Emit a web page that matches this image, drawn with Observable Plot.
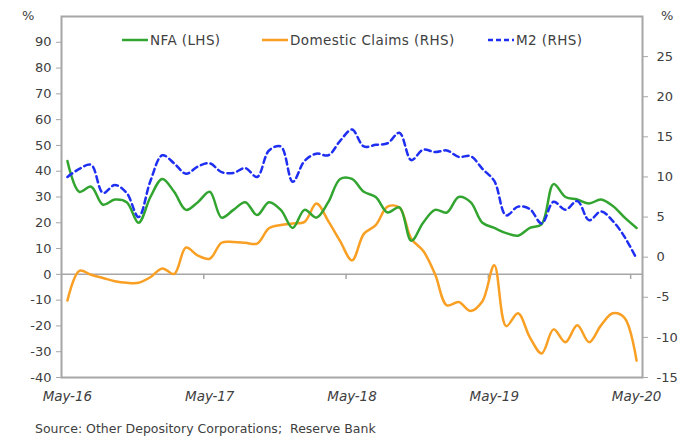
<!DOCTYPE html>
<html>
<head>
<meta charset="utf-8">
<script src="https://cdn.jsdelivr.net/npm/d3@7"></script>
<script src="https://cdn.jsdelivr.net/npm/@observablehq/plot@0.6"></script>
<style>
  html, body { margin: 0; padding: 0; background: #fff; }
  #wrap { position: relative; width: 698px; height: 439px; font-family: "DejaVu Sans", sans-serif; color: #404040; }
  .ov { position: absolute; font-size: 13px; white-space: nowrap; }
  .leg { position: absolute; top: 32px; height: 16px; display: flex; align-items: center; font-size: 13.5px; letter-spacing: 0.4px; white-space: nowrap; }
  .leg svg { margin-right: 2px; }
  #caption { position: absolute; left: 35px; top: 421px; font-size: 12.5px; white-space: nowrap; }
</style>
</head>
<body>
<div id="wrap"></div>
<script>
// Months (index 0 = May-16 ... 48 = May-20)
const xTickLabels = ["May-16", "May-17", "May-18", "May-19", "May-20"];
const xLabelIndex = [0, 12, 24, 36, 48];
const xTickIndex = [11.5, 23.5, 35.5, 47.5];
const leftTicks = [-40, -30, -20, -10, 0, 10, 20, 30, 40, 50, 60, 70, 80, 90];
const rightTicks = [-15, -10, -5, 0, 5, 10, 15, 20, 25];

// NFA (LHS), %
const nfa = [44, 32, 34, 27, 29, 28, 20, 30, 37, 32, 25, 28, 32, 22, 25, 28, 23, 28, 25, 18,
  25, 22, 28, 37, 37, 32, 30, 24, 26, 13, 20, 25, 24, 30, 28, 20, 18, 16, 15, 18,
  19.5, 35, 30, 29, 27.5, 29, 26.5, 22, 18];
// Domestic Claims (RHS), %
const domClaims = [-5.4, -1.7, -2.2, -2.6, -3.0, -3.2, -3.2, -2.5, -1.4, -2.1, 1.2, 0.2, -0.2, 1.8, 1.9, 1.8, 1.7, 3.6, 4.0, 4.2,
  4.4, 6.7, 4.5, 2.0, -0.4, 2.9, 4.0, 6.3, 6.2, 2.3, 0.8, -2.1, -6.0, -5.6, -6.7, -5.5, -1.0, -8.6, -7.0, -10.0,
  -12.0, -9.0, -10.6, -8.5, -10.6, -8.5, -7.0, -7.6, -12.9];
// M2 (RHS), %
const m2 = [10, 11, 11.5, 8, 9, 8, 5, 9.5, 12.7, 11.7, 10.4, 11.3, 11.7, 10.6, 10.5, 11.1, 10, 13.3, 13.8, 9.4,
  12, 12.9, 12.7, 14.5, 15.9, 13.8, 14, 14.2, 15.5, 12.1, 13.4, 13.1, 13.3, 12.5, 12.6, 11, 9.5, 5.2, 6.3, 6,
  4.2, 6.9, 5.9, 7, 4.6, 5.7, 4.5, 2.5, -0.2];

const leftDomain = [-40, 100];
const rightDomain = [-15, 30];
const toLeft = r => leftDomain[0] + (r - rightDomain[0]) * (leftDomain[1] - leftDomain[0]) / (rightDomain[1] - rightDomain[0]);
const fromLeft = l => rightDomain[0] + (l - leftDomain[0]) * (rightDomain[1] - rightDomain[0]) / (leftDomain[1] - leftDomain[0]);

const colors = { nfa: "#32a530", dom: "#f9a024", m2: "#1f2ff2" };
const axisColor = "#a6a6a6";

const nfaData = nfa.map((v, i) => ({ i, v }));
const domData = domClaims.map((v, i) => ({ i, v: toLeft(v) }));
const m2Data = m2.map((v, i) => ({ i, v: toLeft(v) }));

const chart = Plot.plot({
  width: 698,
  height: 412,
  marginTop: 16,
  marginBottom: 35,
  marginLeft: 61,
  marginRight: 56,
  style: { fontFamily: "DejaVu Sans, sans-serif", fontSize: "13px", color: "#404040", background: "#fff" },
  x: { type: "linear", domain: [-0.5, 48.5] },
  y: { domain: leftDomain },
  marks: [
    Plot.frame({ stroke: axisColor, strokeWidth: 2 }),
    Plot.ruleY([0], { stroke: axisColor, strokeWidth: 1.5 }),
    Plot.ruleX(xTickIndex, { x: d => d, y1: 0, y2: -2, stroke: axisColor, strokeWidth: 1.5 }),
    Plot.axisY(leftTicks, { anchor: "left", tickSize: 5, tickPadding: 5, stroke: axisColor, tickFormat: d => d, label: null, fill: "#404040" }),
    Plot.axisY(rightTicks.map(toLeft), { anchor: "right", tickSize: 5, tickPadding: 9, stroke: axisColor, tickFormat: d => Math.round(fromLeft(d)), label: null, fill: "#404040" }),
    Plot.axisX(xLabelIndex, { anchor: "bottom", tickSize: 0, tickPadding: 14, tickFormat: (d, k) => xTickLabels[k], fontStyle: "italic", fontSize: 13.5, label: null, fill: "#404040" }),
    Plot.line(domData, { x: "i", y: "v", stroke: colors.dom, strokeWidth: 2.5, curve: "catmull-rom" }),
    Plot.line(nfaData, { x: "i", y: "v", stroke: colors.nfa, strokeWidth: 2.5, curve: "catmull-rom" }),
    Plot.line(m2Data, { x: "i", y: "v", stroke: colors.m2, strokeWidth: 2.5, strokeDasharray: "6,4", curve: "catmull-rom" })
  ]
});

const wrap = document.getElementById("wrap");
wrap.appendChild(chart);

function addDiv(cls, html, style) {
  const d = document.createElement("div");
  d.className = cls;
  d.innerHTML = html;
  Object.assign(d.style, style);
  wrap.appendChild(d);
  return d;
}
addDiv("ov", "%", { left: "22px", top: "8px" });
addDiv("ov", "%", { left: "661px", top: "8px" });

const legendItems = [
  { label: "NFA (LHS)", color: colors.nfa, dash: null, left: 122 },
  { label: "Domestic Claims (RHS)", color: colors.dom, dash: null, left: 262 },
  { label: "M2 (RHS)", color: colors.m2, dash: "5,3", left: 488 }
];
for (const it of legendItems) {
  const sw = `<svg width="26" height="6"><line x1="0" y1="3" x2="26" y2="3" stroke="${it.color}" stroke-width="2.5" ${it.dash ? `stroke-dasharray="${it.dash}"` : ""}/></svg>`;
  addDiv("leg", sw + `<span>${it.label}</span>`, { left: it.left + "px" });
}
addDiv("", "Source: Other Depository Corporations;&nbsp; Reserve Bank", {}).id = "caption";
</script>
</body>
</html>
